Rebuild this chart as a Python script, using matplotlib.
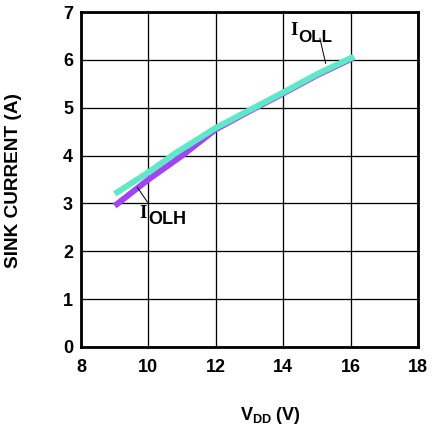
import matplotlib
matplotlib.use("Agg")
import matplotlib.pyplot as plt

vdd_ohl = [9, 10, 11, 12, 13, 14, 15, 16.1]
iolh = [2.95, 3.5, 4.0, 4.55, 4.93, 5.3, 5.68, 6.05]
vdd_oll = [9, 10, 10.8, 12, 13, 14, 15, 16.1]
ioll = [3.2, 3.65, 4.05, 4.58, 4.95, 5.32, 5.7, 6.07]

xticks = [8, 10, 12, 14, 16, 18]
yticks = [0, 1, 2, 3, 4, 5, 6, 7]

plt.rcParams['font.family'] = ['Liberation Sans', 'DejaVu Sans']
plt.rcParams['mathtext.fontset'] = 'custom'
plt.rcParams['mathtext.rm'] = 'Liberation Sans:bold'
plt.rcParams['mathtext.bf'] = 'Liberation Sans:bold'

fig = plt.figure(figsize=(6, 6), dpi=72)
ax = fig.add_axes([0.1875, 0.1968, 0.78, 0.7752])

ax.plot(vdd_ohl, iolh, color='#a045f0', lw=6, solid_capstyle='butt', zorder=3)
ax.plot(vdd_oll, ioll, color='#5ee8c8', lw=6, solid_capstyle='butt', zorder=4)

ax.set_xlim(8, 18)
ax.set_ylim(0, 7)
ax.set_xticks(xticks)
ax.set_yticks(yticks)
ax.grid(True, color='black', lw=1.3)
ax.tick_params(length=0, labelsize=18, pad=8)
ax.tick_params(axis='x', pad=12)
for lab in ax.get_xticklabels() + ax.get_yticklabels():
    lab.set_fontweight('bold')
for s in ax.spines.values():
    s.set_linewidth(2.8)

# annotations
ax.plot([15.09, 15.26], [6.45, 5.93], color='black', lw=1, zorder=5)
ax.plot([9.67, 9.97], [3.34, 3.03], color='black', lw=1, zorder=5)
fig.text(290/432, 1 - 35/432, 'I', fontsize=19, family='Liberation Serif',
         fontweight='bold', va='baseline')
fig.text(298/432, 1 - 42/432, 'OLL', fontsize=17, fontweight='bold', va='baseline')
fig.text(139/432, 1 - 218/432, 'I', fontsize=19, family='Liberation Serif',
         fontweight='bold', va='baseline')
fig.text(148/432, 1 - 224/432, 'OLH', fontsize=18, fontweight='bold', va='baseline')

fig.text(14/432, 1 - 181/432, 'SINK CURRENT (A)',
         rotation=90, ha='center', va='center', fontsize=19, fontweight='bold')
fig.text(270/432, 1 - 415/432, r'V$_{\mathbf{DD}}$ (V)', ha='center', va='center',
         fontsize=18, fontweight='bold')

fig.savefig('out.png', dpi=72)
